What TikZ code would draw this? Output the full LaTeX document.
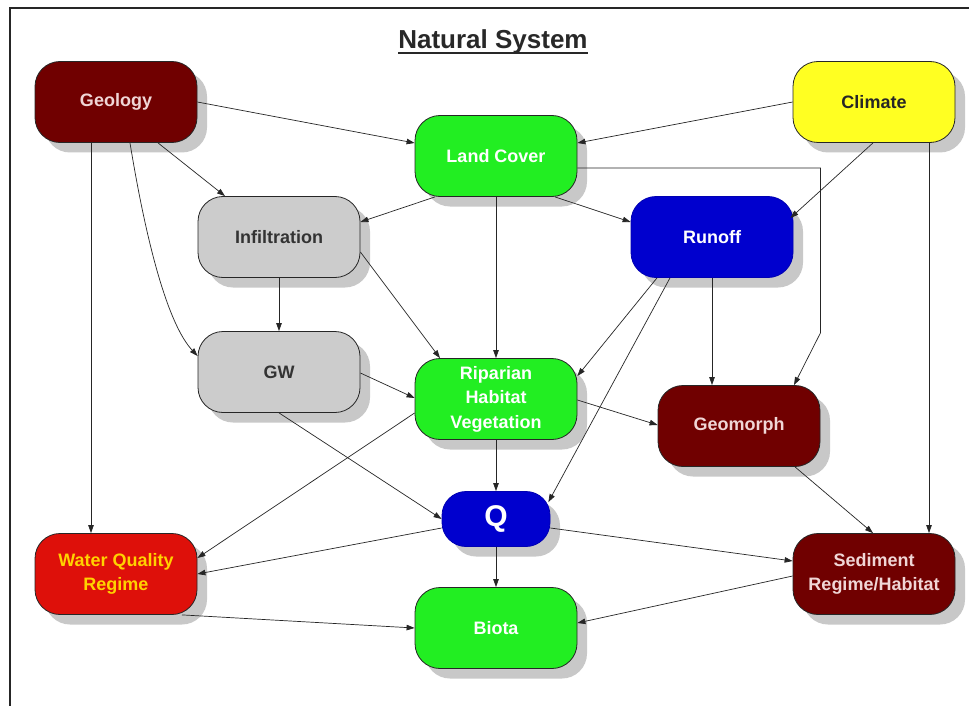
\documentclass[tikz,border=0pt]{standalone}
\usepackage{fontspec}
\setmainfont{Liberation Sans}
\setsansfont{Liberation Sans}
\usetikzlibrary{arrows.meta,shadows}
\definecolor{maroonfill}{RGB}{112,0,0}
\definecolor{maroontext}{RGB}{240,214,214}
\definecolor{greenfill}{RGB}{34,238,34}
\definecolor{bluefill}{RGB}{0,0,206}
\definecolor{yellowfill}{RGB}{255,255,34}
\definecolor{grayfill}{RGB}{204,204,204}
\definecolor{redfill}{RGB}{222,16,10}
\definecolor{goldtext}{RGB}{255,210,0}
\definecolor{shadowgray}{RGB}{200,200,200}
\definecolor{titlecol}{RGB}{40,40,40}
\begin{document}
\begin{tikzpicture}[x=1pt,y=1pt,
  box/.style={rectangle, rounded corners=25pt, minimum width=162pt, minimum height=81pt,
    draw=black!85, line width=0.8pt, align=center, inner sep=0pt,
    font=\fontsize{18}{24.5}\selectfont\bfseries,
    drop shadow={shadow xshift=10pt, shadow yshift=-10pt, fill=shadowgray, opacity=1}},
  maroonbox/.style={box, fill=maroonfill, text=maroontext},
  greenbox/.style={box, fill=greenfill, text=white},
  bluebox/.style={box, fill=bluefill, text=white, draw=blue!70!black},
  graybox/.style={box, fill=grayfill, text=black!80},
  yellowbox/.style={box, fill=yellowfill, text=black!85},
  redbox/.style={box, fill=redfill, text=goldtext},
  link/.style={draw=black!85, line width=0.7pt, -{Triangle[length=8pt,width=5.5pt]}}
]
\useasboundingbox (0,0) rectangle (969,-706);
\fill[white] (0,0) rectangle (969,-706);
% frame
\draw[line width=1.6pt, black!85] (10,-706) -- (10,-8) -- (975,-8);

% title
\node[anchor=base, inner sep=0pt, text=titlecol, font=\fontsize{26}{30}\selectfont\bfseries] (title) at (493,-49) {Natural System};
\draw[line width=2pt, titlecol] ([yshift=-4pt]title.base west) -- ([yshift=-4pt]title.base east);

% nodes
\node[maroonbox] (geo) at (116,-102) {Geology};
\node[greenbox] (lc) at (496,-156) {Land Cover};
\node[yellowbox] (cli) at (874,-102) {Climate};
\node[graybox] (inf) at (279,-237) {Infiltration};
\node[bluebox] (run) at (712,-237) {Runoff};
\node[graybox] (gw) at (279,-372) {GW};
\node[greenbox] (rip) at (496,-399) {Riparian\\Habitat\\Vegetation};
\node[maroonbox] (geom) at (739,-426) {Geomorph};
\node[bluebox, minimum width=108pt, minimum height=55pt, rounded corners=24pt,
      font=\fontsize{30}{30}\selectfont\bfseries] (q) at (496,-519) {Q};
\node[redbox] (wq) at (116,-574) {Water Quality\\Regime};
\node[greenbox] (bio) at (496,-628) {Biota};
\node[maroonbox] (sed) at (874,-574) {Sediment\\Regime/Habitat};

% connectors
\draw[link] (geo.east) -- ([yshift=13pt]lc.west);
\draw[link] (cli.west) -- ([yshift=13pt]lc.east);
\draw[link] ([xshift=42pt]geo.south) -- ([xshift=-54pt]inf.north);
\draw[link] ([xshift=14pt]geo.south) .. controls +(18,-110) and +(-28,30) .. ([yshift=16pt]gw.west);
\draw[link] ([xshift=-25pt]geo.south) -- ([xshift=-25pt]wq.north);
\draw[link] ([xshift=-61pt]lc.south) -- ([yshift=15pt]inf.east);
\draw[link] ([xshift=59pt]lc.south) -- ([yshift=15pt]run.west);
\draw[link] (lc.south) -- (rip.north);
\draw[link] ([yshift=-12pt]lc.east) -- ++(243,0) -- ++(0,-165) -- ([xshift=55pt]geom.north);
\draw[link] ([xshift=-1pt]cli.south) -- ([xshift=-3pt,yshift=19pt]run.east);
\draw[link] ([xshift=55pt]cli.south) -- ([xshift=55pt]sed.north);
\draw[link] (inf.south) -- (gw.north);
\draw[link] ([yshift=-15pt]inf.east) -- ([xshift=-56pt]rip.north);
\draw[link] ([yshift=-1pt]gw.east) -- ([yshift=1pt]rip.west);
\draw[link] (gw.south) -- (q.west);
\draw[link] ([xshift=-55pt]run.south) -- ([yshift=23pt]rip.east);
\draw[link] ([xshift=-42pt]run.south) -- ([xshift=-2pt,yshift=-11pt]q.north east);
\draw[link] (run.south) -- ([xshift=-27pt]geom.north);
\draw[link] ([yshift=-1pt]rip.east) -- ([yshift=1pt]geom.west);
\draw[link] (rip.south) -- (q.north);
\draw[link] ([yshift=-14pt]rip.west) -- ([yshift=16pt]wq.east);
\draw[link] ([yshift=-9pt]q.west) -- (wq.east);
\draw[link] (q.south) -- (bio.north);
\draw[link] ([yshift=-9pt]q.east) -- ([yshift=13pt]sed.west);
\draw[link] ([xshift=56pt]geom.south) -- ([xshift=-1pt]sed.north);
\draw[link] ([yshift=-2pt]sed.west) -- ([yshift=5pt]bio.east);
\draw[link] ([xshift=66pt]wq.south) -- (bio.west);
\end{tikzpicture}
\end{document}
